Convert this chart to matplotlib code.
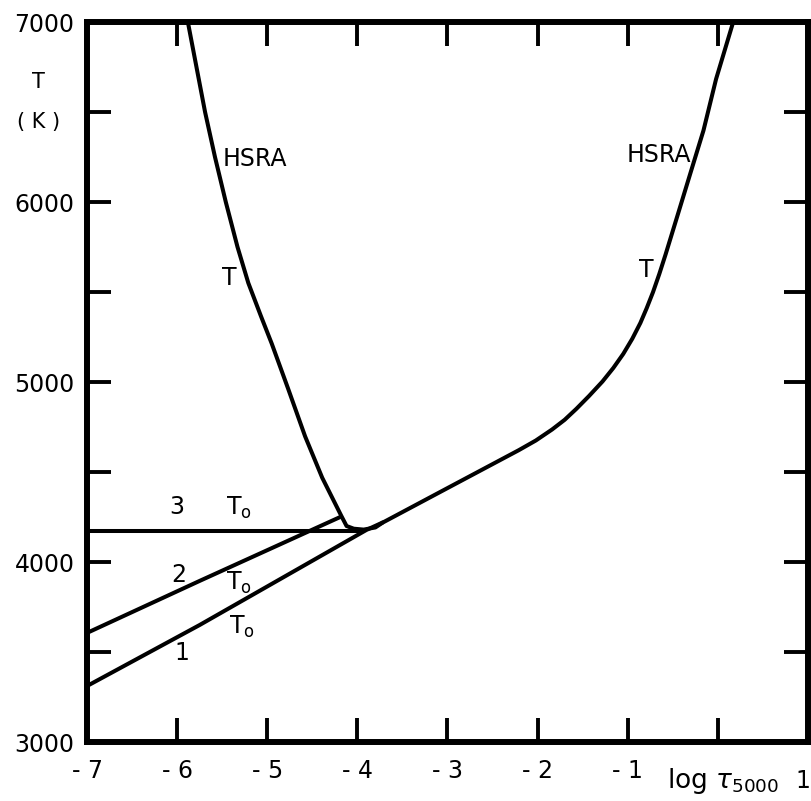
import matplotlib
import matplotlib.pyplot as plt

matplotlib.use("Agg")
plt.rcParams["font.family"] = ["DejaVu Sans"]
plt.rcParams["mathtext.fontset"] = "dejavusans"

# HSRA temperature, upper (chromospheric) branch
hsra_left_tau = [-5.90, -5.69, -5.58, -5.46, -5.33, -5.21, -5.07, -4.95, -4.77,
                 -4.58, -4.39, -4.18, -4.12, -4.04, -3.93, -3.80, -3.71]
hsra_left_T = [7050, 6500, 6250, 6000, 5750, 5550, 5366, 5213, 4965,
               4698, 4468, 4258, 4200, 4185, 4180, 4192, 4222]

# line 1 continuing into the photospheric HSRA branch
hsra_right_tau = [-7.0, -5.75, -3.90, -3.70, -3.04, -2.21, -2.02, -1.84, -1.70, -1.57,
                  -1.43, -1.28, -1.16, -1.05, -0.95, -0.86, -0.79, -0.72, -0.65, -0.58,
                  -0.44, -0.30, -0.16, -0.02, 0.17]
hsra_right_T = [3311, 3650, 4178, 4224, 4400, 4621, 4675, 4736, 4790, 4851,
                4922, 5003, 5078, 5156, 5240, 5328, 5410, 5499, 5600, 5709,
                5938, 6168, 6397, 6683, 7000]

# T0 model 2
line2_tau = [-7.0, -5.75, -4.19]
line2_T = [3606, 3895, 4250]

# T0 model 3 (isothermal)
line3_tau = [-7.0, -3.93]
line3_T = [4172, 4172]

xticks = [-7, -6, -5, -4, -3, -2, -1, 0, 1]
xticklabels = ["- 7", "- 6", "- 5", "- 4", "- 3", "- 2", "- 1", "", ""]
yticks = [3000, 3500, 4000, 4500, 5000, 5500, 6000, 6500, 7000]
yticklabels = ["3000", "", "4000", "", "5000", "", "6000", "", "7000"]

fig = plt.figure(figsize=(8.12, 8.01), dpi=100)
ax = fig.add_axes([87 / 812, 1 - 742 / 801, (808 - 87) / 812, (742 - 22) / 801])

lw = 2.9
for tau, T in [(hsra_left_tau, hsra_left_T), (hsra_right_tau, hsra_right_T),
               (line2_tau, line2_T), (line3_tau, line3_T)]:
    ax.plot(tau, T, color="black", lw=lw, solid_capstyle="butt", solid_joinstyle="round")

ax.set_xlim(-7, 1)
ax.set_ylim(3000, 7000)
ax.set_xticks(xticks)
ax.set_xticklabels(xticklabels)
ax.set_yticks(yticks)
ax.set_yticklabels(yticklabels)
ax.tick_params(direction="in", top=True, right=True, length=17, width=2.8,
               labelsize=17, color="black")
ax.tick_params(axis="x", pad=12)
ax.tick_params(axis="y", pad=9)
for sp in ax.spines.values():
    sp.set_linewidth(4.3)

fs = 17
ax.text(-5.49, 6240, "HSRA", fontsize=fs, ha="left", va="center")
ax.text(-0.30, 6263, "HSRA", fontsize=fs, ha="right", va="center")
ax.text(-5.42, 5576, "T", fontsize=fs, ha="center", va="center")
ax.text(-0.79, 5623, "T", fontsize=fs, ha="center", va="center")
ax.text(-6.0, 4306, "3", fontsize=fs, ha="center", va="center")
ax.text(-5.31, 4300, r"T$_\mathregular{o}$", fontsize=fs, ha="center", va="center")
ax.text(-5.98, 3928, "2", fontsize=fs, ha="center", va="center")
ax.text(-5.31, 3883, r"T$_\mathregular{o}$", fontsize=fs, ha="center", va="center")
ax.text(-5.28, 3639, r"T$_\mathregular{o}$", fontsize=fs, ha="center", va="center")
ax.text(-5.95, 3494, "1", fontsize=fs, ha="center", va="center")

xlab = ax.get_xaxis_transform()
ax.text(-0.57, -0.033, r"log $\tau_{5000}$", fontsize=19, ha="left", va="top",
        transform=xlab)
ax.text(1.03, -0.037, "1", fontsize=17, ha="right", va="top", transform=xlab,
        clip_on=False)
fig.text(38 / 812, 1 - 82 / 801, "T", fontsize=15, ha="center", va="center")
fig.text(39 / 812, 1 - 122 / 801, "( K )", fontsize=15, ha="center", va="center")

fig.savefig("out.png", dpi=100)
